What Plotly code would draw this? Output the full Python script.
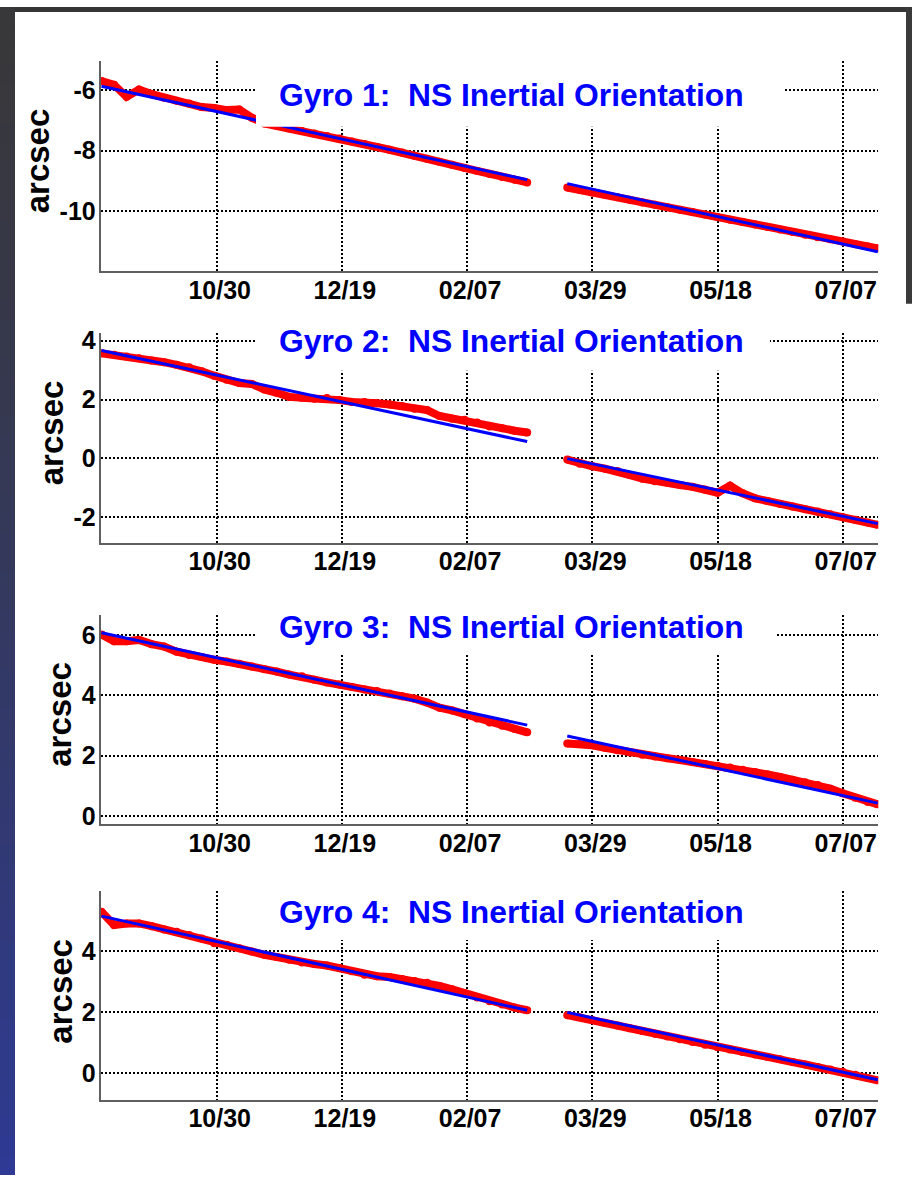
import plotly.graph_objects as go

W, H = 912, 1181

# ---------------- data ----------------
seg1_dates = ["2004-09-14", "2004-09-19", "2004-09-24", "2004-09-29", "2004-10-04", "2004-10-09",
              "2004-10-14", "2004-10-19", "2004-10-24", "2004-10-29", "2004-11-03", "2004-11-08",
              "2004-11-13", "2004-11-18", "2004-11-23", "2004-11-28", "2004-12-03", "2004-12-08",
              "2004-12-13", "2004-12-18", "2004-12-23", "2004-12-28", "2005-01-02", "2005-01-07",
              "2005-01-12", "2005-01-17", "2005-01-22", "2005-01-27", "2005-02-01", "2005-02-06",
              "2005-02-11", "2005-02-16", "2005-02-21", "2005-02-26", "2005-03-03"]
seg2_dates = ["2005-03-19", "2005-03-24", "2005-03-29", "2005-04-03", "2005-04-08", "2005-04-13",
              "2005-04-18", "2005-04-23", "2005-04-28", "2005-05-03", "2005-05-08", "2005-05-13",
              "2005-05-18", "2005-05-23", "2005-05-28", "2005-06-02", "2005-06-07", "2005-06-12",
              "2005-06-17", "2005-06-22", "2005-06-27", "2005-07-02", "2005-07-07", "2005-07-12",
              "2005-07-17", "2005-07-21"]
fit_seg1_dates = ["2004-09-14", "2005-03-03"]
fit_seg2_dates = ["2005-03-19", "2005-07-21"]

gyro1_meas_seg1 = [-5.70, -5.82, -6.22, -5.98, -6.13, -6.25, -6.35, -6.44, -6.56, -6.59, -6.66, -6.64,
                   -6.91, -7.10, -7.18, -7.27, -7.35, -7.43, -7.52, -7.60, -7.70, -7.78, -7.88, -7.97,
                   -8.06, -8.17, -8.27, -8.37, -8.47, -8.57, -8.67, -8.77, -8.87, -8.96, -9.05]
gyro1_meas_seg2 = [-9.22, -9.30, -9.38, -9.46, -9.54, -9.62, -9.71, -9.79, -9.87, -9.95, -10.03, -10.11,
                   -10.19, -10.28, -10.36, -10.44, -10.52, -10.61, -10.69, -10.78, -10.86, -10.93,
                   -11.00, -11.09, -11.17, -11.23]
gyro1_fit_seg1 = [-5.87, -8.96]
gyro1_fit_seg2 = [-9.09, -11.34]

gyro2_meas_seg1 = [3.57, 3.52, 3.46, 3.40, 3.33, 3.27, 3.18, 3.10, 2.96, 2.81, 2.67, 2.56, 2.53, 2.34,
                   2.23, 2.09, 2.06, 2.03, 2.05, 1.98, 1.92, 1.92, 1.87, 1.83, 1.78, 1.69, 1.64, 1.44,
                   1.35, 1.31, 1.22, 1.08, 1.02, 0.94, 0.88]
gyro2_meas_seg2 = [-0.04, -0.18, -0.27, -0.35, -0.43, -0.57, -0.69, -0.78, -0.83, -0.91, -0.97, -1.06,
                   -1.17, -0.93, -1.19, -1.36, -1.45, -1.55, -1.64, -1.73, -1.81, -1.90, -2.00, -2.09,
                   -2.18, -2.26]
gyro2_fit_seg1 = [3.67, 0.57]
gyro2_fit_seg2 = [-0.01, -2.22]

gyro3_meas_seg1 = [6.02, 5.80, 5.80, 5.84, 5.70, 5.62, 5.45, 5.34, 5.27, 5.18, 5.12, 5.05, 4.96, 4.87,
                   4.79, 4.69, 4.63, 4.52, 4.43, 4.36, 4.28, 4.19, 4.14, 4.06, 3.97, 3.89, 3.76, 3.59,
                   3.50, 3.37, 3.23, 3.10, 2.99, 2.88, 2.77]
gyro3_meas_seg2 = [2.40, 2.38, 2.34, 2.26, 2.18, 2.10, 2.03, 1.97, 1.91, 1.85, 1.79, 1.72, 1.66, 1.60,
                   1.53, 1.45, 1.37, 1.29, 1.20, 1.11, 1.02, 0.90, 0.75, 0.60, 0.46, 0.38]
gyro3_fit_seg1 = [6.08, 3.01]
gyro3_fit_seg2 = [2.65, 0.42]

gyro4_meas_seg1 = [5.29, 4.86, 4.91, 4.91, 4.82, 4.71, 4.64, 4.53, 4.42, 4.26, 4.21, 4.10, 3.99, 3.88,
                   3.81, 3.72, 3.63, 3.58, 3.53, 3.45, 3.34, 3.23, 3.18, 3.15, 3.09, 3.02, 2.96, 2.86,
                   2.75, 2.62, 2.48, 2.36, 2.25, 2.15, 2.06]
gyro4_meas_seg2 = [1.90, 1.83, 1.74, 1.65, 1.56, 1.47, 1.38, 1.29, 1.20, 1.11, 1.02, 0.93, 0.85, 0.77,
                   0.69, 0.61, 0.53, 0.45, 0.36, 0.28, 0.20, 0.12, 0.04, -0.06, -0.16, -0.24]
gyro4_fit_seg1 = [5.15, 2.06]
gyro4_fit_seg2 = [1.99, -0.22]

x_tickvals = ["2004-10-30", "2004-12-19", "2005-02-07", "2005-03-29", "2005-05-18", "2005-07-07"]
x_ticktext = ["10/30", "12/19", "02/07", "03/29", "05/18", "07/07"]
x_range = ["2004-09-13 14:24", "2005-07-21 05:00"]

y_tickvals = [[-10, -8, -6], [-2, 0, 2, 4], [0, 2, 4, 6], [0, 2, 4]]
y_ticktext = [["-10", "-8", "-6"], ["-2", "0", "2", "4"], ["0", "2", "4", "6"], ["0", "2", "4"]]
y_ranges = [[-11.97, -5.05], [-2.87, 4.25], [-0.27, 6.66], [-0.87, 5.96]]
titles = ["Gyro 1:\u00a0 NS Inertial Orientation", "Gyro 2:\u00a0 NS Inertial Orientation",
          "Gyro 3:\u00a0 NS Inertial Orientation", "Gyro 4:\u00a0 NS Inertial Orientation"]
y_label = "arcsec"

meas = [(gyro1_meas_seg1, gyro1_meas_seg2), (gyro2_meas_seg1, gyro2_meas_seg2),
        (gyro3_meas_seg1, gyro3_meas_seg2), (gyro4_meas_seg1, gyro4_meas_seg2)]
fits = [(gyro1_fit_seg1, gyro1_fit_seg2), (gyro2_fit_seg1, gyro2_fit_seg2),
        (gyro3_fit_seg1, gyro3_fit_seg2), (gyro4_fit_seg1, gyro4_fit_seg2)]

# ---------------- layout geometry (pixels) ----------------
plot_left, plot_right = 100.5, 878.3
panel_tops = [55, 330, 615, 894.3]
panel_bottoms = [266.7, 541.7, 826, 1104.7]
title_y = [89, 338, 627, 915.5]
title_x = 276.5
box_left = [256, 256, 256, 256]
box_right = [783, 770, 775, 775]
box_bottom = [121, 367.7, 655, 943.3]
ylabel_x = [37, 51, 59.6, 59.6]
ylabel_y = [156, 431, 715, 995]

FONT = "Liberation Sans, Arial, Helvetica, sans-serif"
RED = "#ff0000"
BLUE = "#0000ff"


def px(x):
    return x / W


def py(y):
    return 1 - y / H


fig = go.Figure()
layout = dict(width=W, height=H, margin=dict(l=0, r=0, t=0, b=0), paper_bgcolor="white",
              plot_bgcolor="white", showlegend=False, font=dict(family=FONT, color="black"))

shapes = []
annotations = []

for i in range(4):
    n = "" if i == 0 else str(i + 1)
    xa, ya = "x" + n, "y" + n
    s1, s2 = meas[i]
    f1, f2 = fits[i]
    for xs, ys in ((seg1_dates, s1), (seg2_dates, s2)):
        fig.add_trace(go.Scatter(x=xs, y=ys, mode="lines+markers", line=dict(color=RED, width=8),
                                 marker=dict(color=RED, size=8, line=dict(width=0)),
                                 xaxis=xa, yaxis=ya, hoverinfo="skip"))
    for xs, ys in ((fit_seg1_dates, f1), (fit_seg2_dates, f2)):
        fig.add_trace(go.Scatter(x=xs, y=ys, mode="lines", line=dict(color=BLUE, width=3),
                                 xaxis=xa, yaxis=ya, hoverinfo="skip"))

    layout["xaxis" + n] = dict(
        domain=[px(plot_left), px(plot_right)], anchor=ya, type="date", range=x_range,
        tickmode="array", tickvals=x_tickvals, ticktext=x_ticktext,
        showgrid=True, gridcolor="black", gridwidth=2, griddash="2px,2px",
        showline=True, linecolor="#606060", linewidth=1.5, ticks="", zeroline=False,
        tickfont=dict(family=FONT, size=25, color="black", weight="bold"),
        ticklabelshift=3, ticklabelstandoff=-4)
    layout["yaxis" + n] = dict(
        domain=[py(panel_bottoms[i]), py(panel_tops[i])], anchor=xa, range=y_ranges[i],
        tickmode="array", tickvals=y_tickvals[i], ticktext=y_ticktext[i],
        showgrid=True, gridcolor="black", gridwidth=2, griddash="2px,2px",
        showline=True, linecolor="#606060", linewidth=1.5, ticks="", zeroline=False,
        tickfont=dict(family=FONT, size=25, color="black", weight="bold"),
        ticklabelstandoff=-2)

    # white background box behind the title (covers grid and data like the original)
    shapes.append(dict(type="rect", xref="paper", yref="paper", layer="above",
                       x0=px(box_left[i]), x1=px(box_right[i]),
                       y0=py(box_bottom[i]), y1=py(panel_tops[i] - 3),
                       fillcolor="white", line=dict(width=0)))
    annotations.append(dict(text=titles[i], xref="paper", yref="paper", x=px(title_x), y=py(title_y[i]),
                            xanchor="left", yanchor="middle", showarrow=False,
                            font=dict(family=FONT, size=31.8, color=BLUE, weight="bold")))
    annotations.append(dict(text=y_label, xref="paper", yref="paper", x=px(ylabel_x[i]), y=py(ylabel_y[i]),
                            xanchor="center", yanchor="middle", showarrow=False, textangle=-90,
                            font=dict(family=FONT, size=33, color="black", weight="bold")))

# dark slide frame: top strip, right strip, left strip with gray->blue gradient
shapes.append(dict(type="rect", xref="paper", yref="paper", layer="below", x0=0, x1=1,
                   y0=py(5), y1=1, fillcolor="#363636", line=dict(width=0)))
shapes.append(dict(type="rect", xref="paper", yref="paper", layer="below", x0=px(906), x1=1,
                   y0=py(300), y1=1, fillcolor="#3a3a3a", line=dict(width=0)))
nsteps = 60
c0 = (56, 56, 58)
c1 = (46, 58, 148)
for k in range(nsteps):
    t = (k + 0.5) / nsteps
    t2 = t ** 1.3
    col = tuple(int(round(c0[j] + (c1[j] - c0[j]) * t2)) for j in range(3))
    y_top = H * k / nsteps
    y_bot = min(H, H * (k + 1) / nsteps + 3)
    shapes.append(dict(type="rect", xref="paper", yref="paper", layer="below",
                       x0=0, x1=px(15), y0=py(y_bot), y1=py(y_top),
                       fillcolor="rgb(%d,%d,%d)" % col, line=dict(width=0)))

layout["shapes"] = shapes
layout["annotations"] = annotations
fig.update_layout(**layout)

fig.write_html("out.html", config={"displayModeBar": False},
               post_script="document.body.style.margin='0';document.body.style.padding='0';"
                           "document.body.style.overflow='hidden';")
